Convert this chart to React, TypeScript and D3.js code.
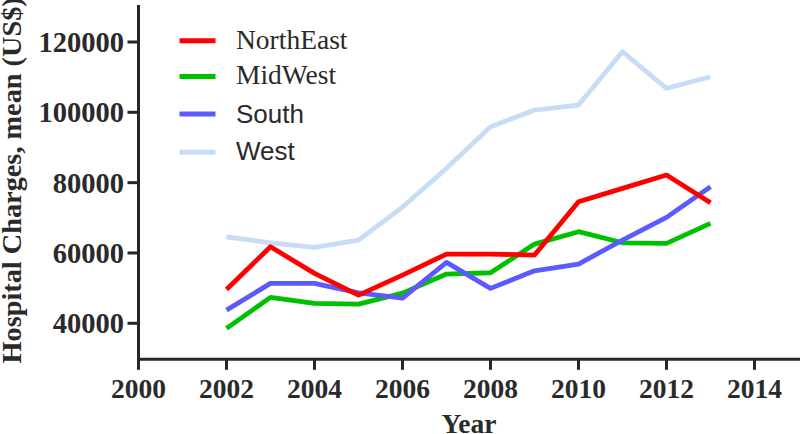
import React from "react";
import * as d3 from "d3";

const years = [2002, 2003, 2004, 2005, 2006, 2007, 2008, 2009, 2010, 2011, 2012, 2013];
const northEast = [49640, 61760, 54200, 48020, 53710, 59690, 59690, 59400, 74570, 78380, 82160, 74280];
const midWest = [38550, 47370, 45660, 45460, 48590, 54000, 54370, 62530, 66050, 62900, 62730, 68420];
const south = [43750, 51350, 51350, 48680, 47170, 57320, 49930, 54930, 56840, 63670, 70130, 78830];
const west = [64610, 62900, 61590, 63670, 73060, 84070, 95900, 100650, 102080, 117240, 106830, 110130];

const seriesNames = ["NorthEast", "MidWest", "South", "West"];
const seriesColors = ["#ff0000", "#00c000", "#5a5aff", "#c8dcf6"];
const seriesFonts = ["'Liberation Serif', serif", "'Liberation Serif', serif", "'Liberation Sans', Arial, sans-serif", "'Liberation Sans', Arial, sans-serif"];
const seriesValues = [northEast, midWest, south, west];

const xTicks = [2000, 2002, 2004, 2006, 2008, 2010, 2012, 2014];
const yTicks = [40000, 60000, 80000, 100000, 120000];

const W = 800;
const H = 434;

export default function App() {
  const x = d3.scaleLinear().domain([2000, 2015]).range([138.5, 798.5]);
  const y = d3.scaleLinear().domain([40000, 120000]).range([323.3, 42]);
  const axisY = 359.3;
  const axisTop = 5;
  const axisColor = "#262626";
  const serif = "'Liberation Serif', 'Times New Roman', serif";

  const line = d3
    .line<number>()
    .x((_, i) => x(years[i]))
    .y((d) => y(d));

  return (
    <svg
      width={W}
      height={H}
      style={{ position: "absolute", left: 0, top: 0, background: "#fff" }}
    >
      {/* data lines */}
      {[3, 1, 2, 0].map((si) => (
        <path
          key={seriesNames[si]}
          d={line(seriesValues[si]) || ""}
          fill="none"
          stroke={seriesColors[si]}
          strokeWidth={4.8}
          strokeLinejoin="round"
        />
      ))}

      {/* y axis */}
      <line x1={x(2000)} x2={x(2000)} y1={axisTop} y2={axisY + 1.5} stroke={axisColor} strokeWidth={3} />
      {yTicks.map((t) => (
        <g key={t}>
          <line x1={x(2000) - 11} x2={x(2000)} y1={y(t)} y2={y(t)} stroke={axisColor} strokeWidth={3} />
          <text
            x={124}
            y={y(t)}
            dy="0.35em"
            textAnchor="end"
            fontFamily={serif}
            fontWeight="bold"
            fontSize={28.5}
            fill="#2a2a2a"
          >
            {t}
          </text>
        </g>
      ))}

      {/* x axis */}
      <line x1={x(2000) - 1.5} x2={W} y1={axisY} y2={axisY} stroke={axisColor} strokeWidth={3} />
      {xTicks.map((t) => (
        <g key={t}>
          <line x1={x(t)} x2={x(t)} y1={axisY} y2={axisY + 10.5} stroke={axisColor} strokeWidth={3} />
          <text
            x={x(t)}
            y={397.5}
            textAnchor="middle"
            fontFamily={serif}
            fontWeight="bold"
            fontSize={27.5}
            fill="#2a2a2a"
          >
            {t}
          </text>
        </g>
      ))}

      {/* axis titles */}
      <text
        x={469}
        y={432.5}
        textAnchor="middle"
        fontFamily={serif}
        fontWeight="bold"
        fontSize={27.5}
        fill="#2a2a2a"
      >
        Year
      </text>
      <text
        transform="translate(20.5,363.5) rotate(-90)"
        textAnchor="start"
        fontFamily={serif}
        fontWeight="bold"
        fontSize={28.3}
        fill="#2a2a2a"
      >
        Hospital Charges, mean (US$)
      </text>

      {/* legend */}
      {seriesNames.map((name, i) => {
        const ly = [40.7, 76.5, 114, 152.3][i];
        const by = [49.3, 84, 122.7, 160][i];
        return (
          <g key={name}>
            <line x1={179.5} x2={215.5} y1={ly} y2={ly} stroke={seriesColors[i]} strokeWidth={5} />
            <text
              x={236}
              y={by}
              fontFamily={seriesFonts[i]}
              fontSize={i < 2 ? 27.5 : 26}
              fill="#2a2a2a"
            >
              {name}
            </text>
          </g>
        );
      })}
    </svg>
  );
}
